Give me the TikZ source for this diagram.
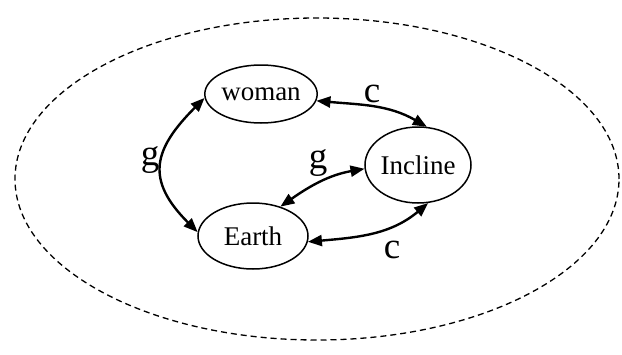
\documentclass[tikz,border=0pt]{standalone}
\usepackage{fontspec}
\setmainfont{Liberation Serif}
\usepackage{tikz}
\usetikzlibrary{arrows.meta,shapes}

\begin{document}
\begin{tikzpicture}[x=1pt,y=-1pt,>={Triangle[length=14pt,width=11pt]},
 obj/.style={shape=ellipse,draw,line width=1.5pt,inner sep=0pt,font=\fontsize{27}{29}\selectfont},
 force/.style={<->,line width=2.4pt},
 lbl/.style={font=\fontsize{37}{39}\selectfont}]
\useasboundingbox (0,0) rectangle (622,354);
\draw[dash pattern=on 6pt off 4pt,line width=1.3pt] (317,179) ellipse [x radius=302pt,y radius=161pt];
\node[obj,minimum width=108pt,minimum height=58pt] (woman) at (261,94) {woman};
\node[obj,minimum width=92pt,minimum height=76pt] (incline) at (418,165) {Incline};
\node[obj,minimum width=110pt,minimum height=66pt] (earth) at (253,236) {Earth};
\draw[force] (woman.184) to[out=225,in=135,looseness=1.4] (earth.176);
\draw[force] (woman.353) to[out=-5,in=150] (incline.77);
\draw[force] (earth.47) to[out=35,in=190] (incline.184);
\draw[force] (earth.354) to[out=5,in=220] (incline.-75);
\node[lbl] (gleft) at (150,160) {g};
\node[lbl] (ctop) at (372,94) {c};
\node[lbl] (gmid) at (318,163) {g};
\node[lbl] (cbot) at (392,250) {c};
\end{tikzpicture}
\end{document}
